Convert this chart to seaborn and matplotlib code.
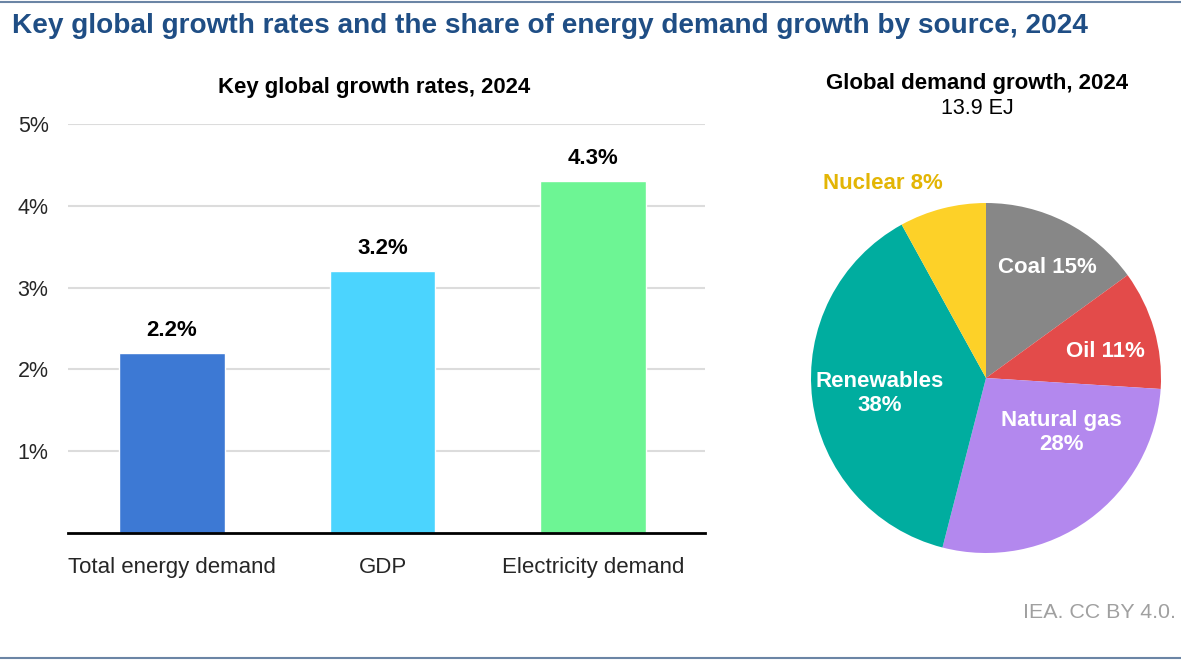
import matplotlib
matplotlib.use("Agg")
import matplotlib.pyplot as plt
import seaborn as sns
import pandas as pd

# Bar chart data
categories = ["Total energy demand", "GDP", "Electricity demand"]
growth_rates = [2.2, 3.2, 4.3]
bar_colors = ["#3d79d4", "#4bd4fe", "#6df594"]

# Pie chart data
sources = ["Coal", "Oil", "Natural gas", "Renewables", "Nuclear"]
shares = [15, 11, 28, 38, 8]
pie_colors = ["#878787", "#e34b4a", "#b388ee", "#00ad9f", "#fdd128"]
pie_labels = ["Coal 15%", "Oil 11%", "Natural gas\n28%", "Renewables\n38%", "Nuclear 8%"]

sns.set_theme(style="white")
plt.rcParams['font.family'] = ['Liberation Sans', 'DejaVu Sans']

W, H = 1181, 661
fig = plt.figure(figsize=(W / 100, H / 100), dpi=100)

# frame lines top and bottom
line_color = "#6b85a5"
fig.add_artist(plt.Line2D([0, 1], [1 - 2 / H, 1 - 2 / H], color=line_color, lw=1.5))
fig.add_artist(plt.Line2D([0, 1], [1 - 658 / H, 1 - 658 / H], color=line_color, lw=1.5))

fig.text(12 / W, 1 - 26 / H,
         "Key global growth rates and the share of energy demand growth by source, 2024",
         fontsize=20.2, fontweight="bold", color="#1f4e85", ha="left", va="center")

# ---- bar chart ----
ax = fig.add_axes([68 / W, 1 - 533 / H, 637 / W, 409 / H])
df = pd.DataFrame({"category": categories, "rate": growth_rates})
sns.barplot(data=df, x="category", y="rate", hue="category", palette=bar_colors,
            width=0.5, legend=False, ax=ax, saturation=1)
ax.set_xlim(-0.494, 2.532)
ax.set_ylim(0, 5)
ax.set_yticks([1, 2, 3, 4, 5])
ax.set_yticklabels([f"{t}%" for t in [1, 2, 3, 4, 5]])
ax.yaxis.grid(True, color="#dcdcdc", lw=1.5)
ax.set_axisbelow(True)
for s in ["top", "right", "left"]:
    ax.spines[s].set_visible(False)
ax.spines["bottom"].set_color("black")
ax.spines["bottom"].set_linewidth(2)
ax.tick_params(axis="y", length=0, pad=14, labelsize=15.5)
ax.tick_params(axis="x", length=0, pad=17, labelsize=16)
ax.set_xlabel("")
ax.set_ylabel("")
for i, v in enumerate(growth_rates):
    ax.annotate(f"{v}%", (i, v), xytext=(0, 9), textcoords="offset points",
                ha="center", va="bottom", fontsize=16, fontweight="bold", color="black")
fig.text(374 / W, 1 - 87 / H, "Key global growth rates, 2024", fontsize=15.9,
         fontweight="bold", ha="center", va="center", color="black")

# ---- pie chart ----
cx, cy, r = 986, 378, 175
pax = fig.add_axes([(cx - r) / W, 1 - (cy + r) / H, 2 * r / W, 2 * r / H])
pax.pie(shares, colors=pie_colors, startangle=90, counterclock=False, radius=1,
        wedgeprops=dict(linewidth=0))
pax.set_xlim(-1, 1)
pax.set_ylim(-1, 1)
pax.axis("off")

label_pos = [(0.35, 0.63), (0.68, 0.15), (0.43, -0.31), (-0.61, -0.09), (-0.59, 1.11)]
label_colors = ["white", "white", "white", "white", "#e3b505"]
for txt, (lx, ly), c in zip(pie_labels, label_pos, label_colors):
    pax.text(lx, ly, txt, ha="center", va="center", fontsize=16, fontweight="bold",
             color=c, linespacing=1.2)

fig.text(977 / W, 1 - 84 / H, "Global demand growth, 2024", fontsize=16,
         fontweight="bold", ha="center", va="center", color="black")
fig.text(977 / W, 1 - 108 / H, "13.9 EJ", fontsize=15.5, ha="center", va="center",
         color="black")

fig.text(1176 / W, 1 - 613 / H, "IEA. CC BY 4.0.", fontsize=15.4, color="#a0a0a0",
         ha="right", va="center")

fig.savefig("out.png", dpi=100)
